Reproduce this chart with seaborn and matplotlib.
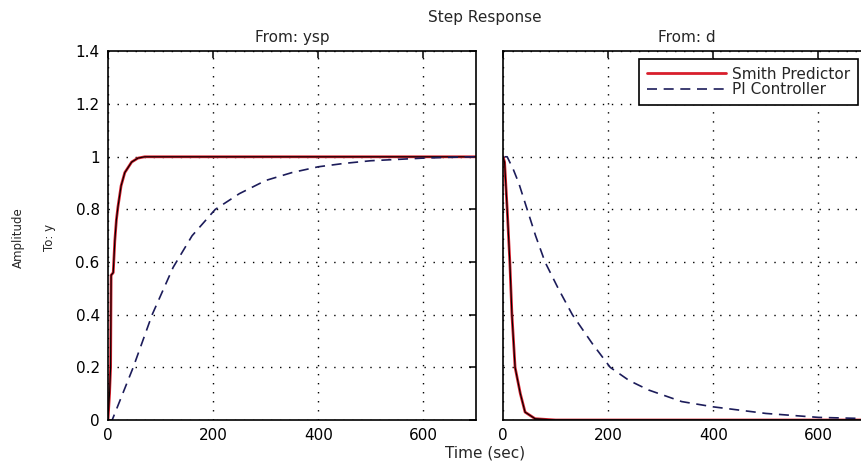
import pandas as pd
import seaborn as sns
import matplotlib.pyplot as plt

# setpoint response (From: ysp)
t_sp_smith = [0, 3, 5, 6, 10, 13, 16, 19, 25, 32, 45, 57, 70, 150, 700]
y_sp_smith = [0, 0.1, 0.2, 0.55, 0.56, 0.68, 0.76, 0.81, 0.89, 0.94, 0.98, 0.995, 1.0, 1.0, 1.0]
t_sp_pi = [0, 8, 48, 84, 124, 160, 204, 250, 300, 350, 400, 450, 500, 550, 600, 650, 700]
y_sp_pi = [0, 0, 0.2, 0.4, 0.58, 0.7, 0.8, 0.86, 0.91, 0.94, 0.962, 0.975, 0.985, 0.99, 0.995, 0.998, 1.0]

# disturbance response (From: d)
t_d_smith = [0, 3, 8, 13, 17, 23, 33, 42, 61, 100, 700]
y_d_smith = [1.0, 0.98, 0.8, 0.6, 0.4, 0.2, 0.1, 0.03, 0.005, 0.0, 0.0]
t_d_pi = [3, 8, 20, 30, 46, 62, 80, 105, 132, 170, 204, 240, 277, 340, 400, 500, 600, 700]
y_d_pi = [1.0, 1.0, 0.95, 0.9, 0.8, 0.7, 0.6, 0.5, 0.4, 0.29, 0.2, 0.15, 0.114, 0.07, 0.05, 0.025, 0.01, 0.005]

x_ticks = [0, 200, 400, 600]
y_ticks = [0, 0.2, 0.4, 0.6, 0.8, 1.0, 1.2, 1.4]
y_labels = ['0', '0.2', '0.4', '0.6', '0.8', '1', '1.2', '1.4']

sns.set_theme(style='white')
plt.rcParams['font.family'] = ['DejaVu Sans']
plt.rcParams['xtick.direction'] = 'in'
plt.rcParams['ytick.direction'] = 'in'

red = '#d81e2c'
navy = '#1c1c5a'

fig = plt.figure(figsize=(8.61, 4.61), dpi=100)
ax1 = fig.add_axes([0.1254, 0.0889, 0.4274, 0.7994])
ax2 = fig.add_axes([0.5842, 0.0889, 0.4274, 0.7994])

panels = [
    (ax1, t_sp_smith, y_sp_smith, t_sp_pi, y_sp_pi, 'From: ysp'),
    (ax2, t_d_smith, y_d_smith, t_d_pi, y_d_pi, 'From: d'),
]

for ax, ts, ys, tp, yp, ttl in panels:
    sns.lineplot(x=ts, y=ys, ax=ax, color=red, lw=2.0, estimator=None, sort=False,
                 label='Smith Predictor')
    sns.lineplot(x=ts, y=ys, ax=ax, color='black', lw=0.8, estimator=None, sort=False)
    sns.lineplot(x=tp, y=yp, ax=ax, color=navy, lw=1.2, estimator=None, sort=False,
                 linestyle=(0, (6, 4)), label='PI Controller')
    ax.set_xlim(0, 700)
    ax.set_ylim(0, 1.4)
    ax.set_xticks(x_ticks)
    ax.set_yticks(y_ticks)
    ax.grid(True, color='black', linestyle=(0, (1, 5.5)), lw=1.0)
    ax.tick_params(which='both', top=True, right=True, length=5, width=1.1,
                   color='black', labelsize=11, pad=6, labelcolor='black')
    for s in ax.spines.values():
        s.set_color('black')
        s.set_linewidth(1.2)
    ax.set_title(ttl, fontsize=11, pad=7)
    ax.legend_.remove()

ax1.set_yticklabels(y_labels)
ax2.set_yticklabels([])

h, l = ax1.get_legend_handles_labels()
h = [h[0], h[-1]]
l = [l[0], l[-1]]
leg = ax2.legend(h, l, loc='upper right', bbox_to_anchor=(0.965, 0.98), borderaxespad=0,
                 fontsize=11, frameon=True, fancybox=False, edgecolor='black', framealpha=1,
                 handlelength=5.2, borderpad=0.5, labelspacing=0.05, handletextpad=0.4)
leg.get_frame().set_linewidth(1.2)

fig.text(0.563, 0.961, 'Step Response', ha='center', va='center', fontsize=11)
fig.text(0.563, 0.017, 'Time (sec)', ha='center', va='center', fontsize=11)
fig.text(0.021, 0.484, 'Amplitude', ha='center', va='center', rotation=90, fontsize=8.5)
fig.text(0.058, 0.484, 'To: y', ha='center', va='center', rotation=90, fontsize=8.5)

fig.savefig('out.png', dpi=100)
